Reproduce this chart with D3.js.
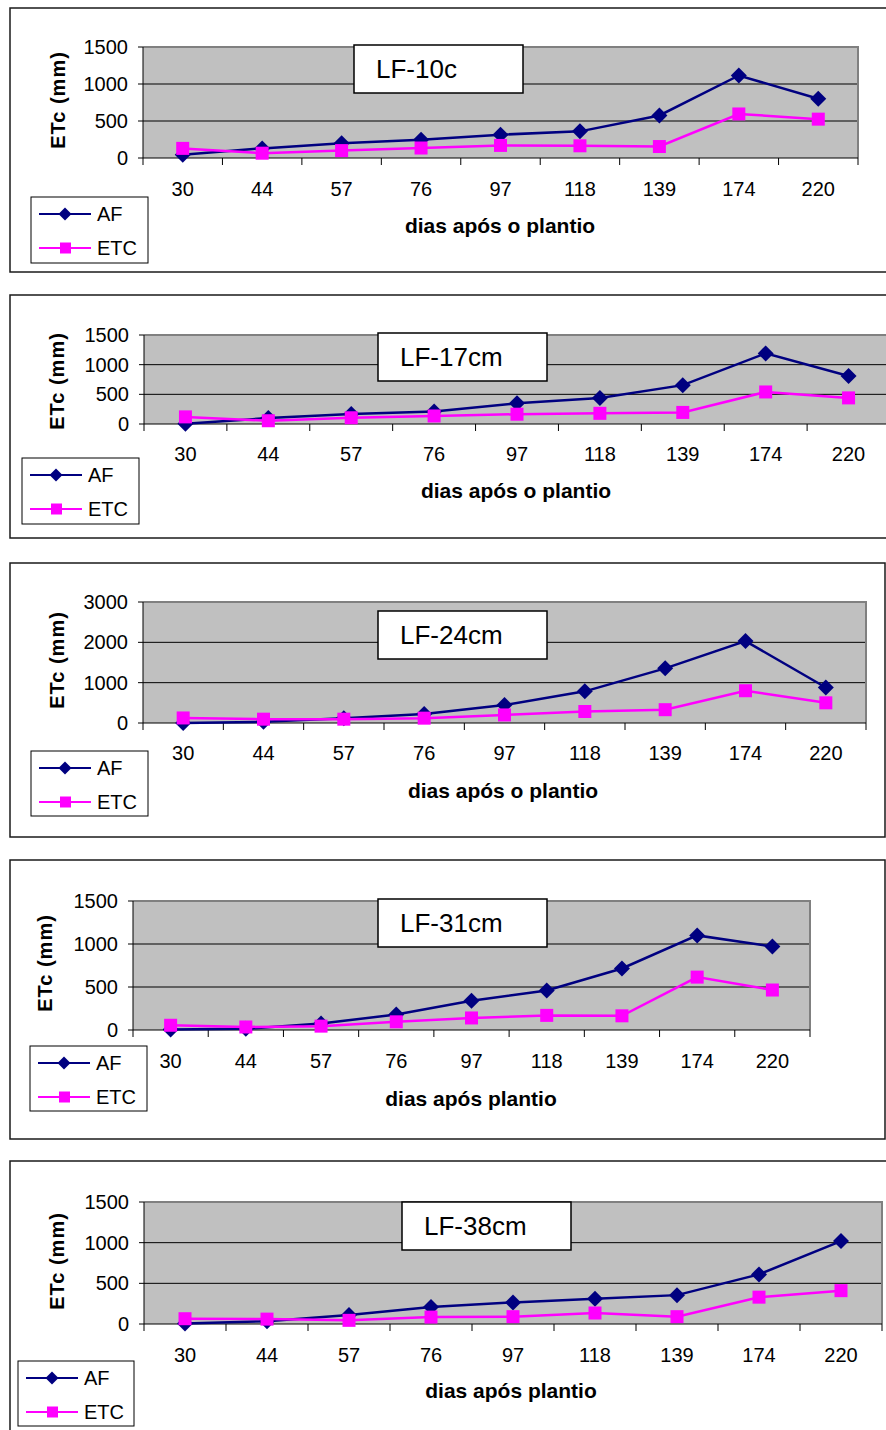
<!DOCTYPE html>
<html>
<head>
<meta charset="utf-8">
<script src="https://cdn.jsdelivr.net/npm/d3@7"></script>
<style>
  html, body { margin: 0; padding: 0; background: #fff; }
  svg { display: block; font-family: "Liberation Sans", Arial, sans-serif; }
</style>
</head>
<body>
<svg id="chart" width="886" height="1430"></svg>
<script>
// ---- data ----
const days = ["30", "44", "57", "76", "97", "118", "139", "174", "220"];
const seriesNames = ["AF", "ETC"];
const titles = ["LF-10c", "LF-17cm", "LF-24cm", "LF-31cm", "LF-38cm"];
const xTitles = ["dias após o plantio", "dias após o plantio", "dias após o plantio", "dias após plantio", "dias após plantio"];
const yAxisTitle = "ETc (mm)";
const yTicks1500 = [0, 500, 1000, 1500];
const yTicks3000 = [0, 1000, 2000, 3000];

const af10  = [45, 130, 200, 245, 315, 360, 575, 1115, 800];
const etc10 = [130, 65, 100, 135, 170, 165, 155, 595, 525];
const af17  = [5, 100, 170, 210, 350, 440, 655, 1190, 810];
const etc17 = [120, 55, 105, 135, 165, 180, 195, 540, 440];
const af24  = [0, 30, 115, 225, 445, 785, 1355, 2030, 880];
const etc24 = [125, 95, 95, 120, 200, 285, 330, 800, 500];
const af31  = [5, 15, 75, 180, 340, 460, 715, 1100, 970];
const etc31 = [55, 35, 45, 95, 140, 170, 165, 615, 465];
const af38  = [5, 35, 110, 210, 265, 310, 355, 610, 1020];
const etc38 = [65, 60, 45, 85, 90, 135, 90, 330, 410];

// ---- layout (positions only) ----
const layouts = [
  { frame: [10, 8, 890, 264],   plot: [143, 858, 47, 158],   ticks: yTicks1500, title: [354, 45, 169, 48],  legend: [31, 197, 117, 66], xt: [500, 233], tickY: 196,  yl: [58, 100] },
  { frame: [10, 295, 890, 243], plot: [144, 890, 335, 424],  ticks: yTicks1500, title: [378, 333, 169, 48], legend: [22, 458, 117, 66], xt: [516, 498], tickY: 461,  yl: [57, 381] },
  { frame: [10, 563, 875, 274], plot: [143, 866, 602, 723],  ticks: yTicks3000, title: [378, 611, 169, 48], legend: [31, 751, 117, 65], xt: [503, 798], tickY: 760,  yl: [57, 660] },
  { frame: [10, 860, 875, 279], plot: [133, 810, 901, 1030], ticks: yTicks1500, title: [378, 899, 169, 48], legend: [30, 1046, 117, 65], xt: [471, 1106], tickY: 1068, yl: [45, 963] },
  { frame: [10, 1161, 890, 300], plot: [144, 882, 1202, 1324], ticks: yTicks1500, title: [402, 1202, 169, 48], legend: [18, 1361, 116, 65], xt: [511, 1398], tickY: 1362, yl: [57, 1261] }
];
const afSets = [af10, af17, af24, af31, af38];
const etcSets = [etc10, etc17, etc24, etc31, etc38];

const AF_COLOR = "#000080";
const ETC_COLOR = "#FF00FF";

const svg = d3.select("#chart");
svg.append("rect").attr("width", 886).attr("height", 1430).attr("fill", "#fff");

function diamond(r) { return `M0,${-r}L${r},0L0,${r}L${-r},0Z`; }

layouts.forEach((L, i) => {
  const g = svg.append("g");
  const [fx, fy, fw, fh] = L.frame;
  g.append("rect").attr("x", fx).attr("y", fy).attr("width", fw).attr("height", fh)
    .attr("fill", "#fff").attr("stroke", "#1a1a1a").attr("stroke-width", 1.5);

  const [x0, x1, yTop, yBot] = L.plot;
  const yMax = L.ticks[L.ticks.length - 1];
  const x = d3.scaleBand().domain(days).range([x0, x1]).padding(0);
  const y = d3.scaleLinear().domain([0, yMax]).range([yBot, yTop]);
  const cx = d => x(d) + x.bandwidth() / 2;

  // plot area
  g.append("rect").attr("x", x0).attr("y", yTop).attr("width", x1 - x0).attr("height", yBot - yTop)
    .attr("fill", "#C0C0C0");
  // gridlines
  g.selectAll(".grid").data(L.ticks.filter(t => t > 0)).enter().append("line")
    .attr("x1", x0).attr("x2", x1).attr("y1", d => y(d)).attr("y2", d => y(d))
    .attr("stroke", "#000").attr("stroke-width", 1);
  // plot border (top/right gray)
  g.append("path").attr("d", `M${x0},${yTop}L${x1},${yTop}L${x1},${yBot}`)
    .attr("fill", "none").attr("stroke", "#808080").attr("stroke-width", 2);
  // axes
  g.append("line").attr("x1", x0).attr("x2", x0).attr("y1", yTop).attr("y2", yBot).attr("stroke", "#000").attr("stroke-width", 1);
  g.append("line").attr("x1", x0).attr("x2", x1).attr("y1", yBot).attr("y2", yBot).attr("stroke", "#000").attr("stroke-width", 1);
  const edges = days.map(d => x(d)).concat([x1]);
  g.selectAll(".xt").data(edges).enter().append("line")
    .attr("x1", d => d).attr("x2", d => d).attr("y1", yBot).attr("y2", yBot + 7)
    .attr("stroke", "#000").attr("stroke-width", 1);
  g.selectAll(".yt").data(L.ticks).enter().append("line")
    .attr("x1", x0 - 5).attr("x2", x0).attr("y1", d => y(d)).attr("y2", d => y(d))
    .attr("stroke", "#000").attr("stroke-width", 1);

  // tick labels
  g.selectAll(".yl").data(L.ticks).enter().append("text")
    .attr("x", x0 - 15).attr("y", d => y(d) + 7).attr("text-anchor", "end")
    .attr("font-size", 20).attr("fill", "#000").text(d => d);
  g.selectAll(".xl").data(days).enter().append("text")
    .attr("x", d => cx(d)).attr("y", L.tickY).attr("text-anchor", "middle")
    .attr("font-size", 20).attr("fill", "#000").text(d => d);

  // axis titles
  g.append("text").attr("x", L.xt[0]).attr("y", L.xt[1]).attr("text-anchor", "middle")
    .attr("font-size", 21).attr("font-weight", "bold").text(xTitles[i]);
  g.append("text").attr("transform", `translate(${L.yl[0]},${L.yl[1]}) rotate(-90)`)
    .attr("text-anchor", "middle").attr("dominant-baseline", "central")
    .attr("font-size", 20).attr("font-weight", "bold").attr("letter-spacing", 1).text(yAxisTitle);

  // series
  const line = d3.line().x((d, j) => cx(days[j])).y(d => y(d));
  const af = afSets[i], etc = etcSets[i];
  g.append("path").attr("d", line(af)).attr("fill", "none").attr("stroke", AF_COLOR).attr("stroke-width", 2.5);
  g.selectAll(".afm").data(af).enter().append("path")
    .attr("transform", (d, j) => `translate(${cx(days[j])},${y(d)})`)
    .attr("d", diamond(8)).attr("fill", AF_COLOR);
  g.append("path").attr("d", line(etc)).attr("fill", "none").attr("stroke", ETC_COLOR).attr("stroke-width", 2.5);
  g.selectAll(".etm").data(etc).enter().append("rect")
    .attr("x", (d, j) => cx(days[j]) - 6.5).attr("y", d => y(d) - 6.5)
    .attr("width", 13).attr("height", 13).attr("fill", ETC_COLOR);

  // title box
  const [tx, ty, tw, th] = L.title;
  g.append("rect").attr("x", tx).attr("y", ty).attr("width", tw).attr("height", th)
    .attr("fill", "#fff").attr("stroke", "#000").attr("stroke-width", 1.5);
  g.append("text").attr("x", tx + 22).attr("y", ty + th / 2 + 9)
    .attr("font-size", 26).attr("fill", "#000").text(titles[i]);

  // legend
  const [lx, ly, lw, lh] = L.legend;
  g.append("rect").attr("x", lx).attr("y", ly).attr("width", lw).attr("height", lh)
    .attr("fill", "#fff").attr("stroke", "#000").attr("stroke-width", 1);
  const rows = [ly + 17, ly + 51];
  seriesNames.forEach((name, k) => {
    const yy = rows[k];
    const col = k === 0 ? AF_COLOR : ETC_COLOR;
    g.append("line").attr("x1", lx + 8).attr("x2", lx + 60).attr("y1", yy).attr("y2", yy)
      .attr("stroke", col).attr("stroke-width", 2);
    if (k === 0) {
      g.append("path").attr("transform", `translate(${lx + 34},${yy})`).attr("d", diamond(6.5)).attr("fill", col);
    } else {
      g.append("rect").attr("x", lx + 29).attr("y", yy - 5.5).attr("width", 11).attr("height", 11).attr("fill", col);
    }
    g.append("text").attr("x", lx + 66).attr("y", yy + 7).attr("font-size", 20).attr("fill", "#000").text(name);
  });
});
</script>
</body>
</html>
